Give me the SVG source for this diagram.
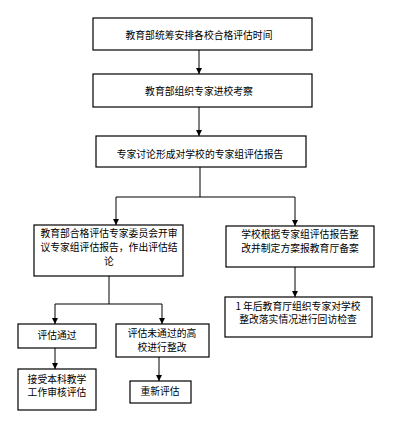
<svg xmlns="http://www.w3.org/2000/svg" width="410" height="430" viewBox="0 0 410 430">
<style>
.box{fill:#fff;stroke:#000;stroke-width:1.2}
.t{font-family:"Noto Sans CJK SC","Liberation Sans",sans-serif;font-size:9.8px;fill:#000;text-anchor:middle}
.c{fill:none;stroke:#000;stroke-width:1}
</style>
<defs>
<marker id="ah" viewBox="0 0 6 6" refX="6" refY="3" markerWidth="6" markerHeight="6" markerUnits="userSpaceOnUse" orient="auto">
<path d="M0,0 L6,3 L0,6 Z" fill="#000"/>
</marker>
</defs>
<rect width="410" height="430" fill="#fff"/>
<g id="connectors">
<line class="c" x1="199" y1="50" x2="199" y2="74" marker-end="url(#ah)"/>
<line class="c" x1="199" y1="107" x2="199" y2="136" marker-end="url(#ah)"/>
<polyline class="c" points="200,167 200,197"/>
<polyline class="c" points="116,197 295,197"/>
<line class="c" x1="116" y1="197" x2="116" y2="225" marker-end="url(#ah)"/>
<line class="c" x1="295" y1="197" x2="295" y2="226" marker-end="url(#ah)"/>
<line class="c" x1="295" y1="267" x2="295" y2="297" marker-end="url(#ah)"/>
<polyline class="c" points="109,276 109,304"/>
<polyline class="c" points="55,304 162,304"/>
<line class="c" x1="55" y1="304" x2="55" y2="324" marker-end="url(#ah)"/>
<line class="c" x1="162" y1="304" x2="162" y2="324" marker-end="url(#ah)"/>
<line class="c" x1="55" y1="348" x2="55" y2="369" marker-end="url(#ah)"/>
<line class="c" x1="159" y1="357" x2="159" y2="381" marker-end="url(#ah)"/>
</g>
<g id="n1"><rect class="box" x="93" y="18" width="219" height="32"/><text class="t" x="199" y="39">教育部统筹安排各校合格评估时间</text></g>
<g id="n2"><rect class="box" x="93" y="74" width="219" height="33"/><text class="t" x="199" y="95">教育部组织专家进校考察</text></g>
<g id="n3"><rect class="box" x="96" y="136" width="210" height="31"/><text class="t" x="200" y="158">专家讨论形成对学校的专家组评估报告</text></g>
<g id="n4"><rect class="box" x="34" y="225" width="149" height="51"/>
<text class="t" x="109" y="237">教育部合格评估专家委员会开审</text>
<text class="t" x="109" y="251">议专家组评估报告，作出评估结</text>
<text class="t" x="109" y="265">论</text></g>
<g id="n5"><rect class="box" x="226" y="226" width="148" height="41"/>
<text class="t" x="300" y="238">学校根据专家组评估报告整</text>
<text class="t" x="300" y="252">改并制定方案报教育厅备案</text></g>
<g id="n6"><rect class="box" x="225" y="297" width="147" height="40"/>
<text class="t" x="298" y="310">1 年后教育厅组织专家对学校</text>
<text class="t" x="298" y="323">整改落实情况进行回访检查</text></g>
<g id="n7"><rect class="box" x="18" y="324" width="78" height="24"/><text class="t" x="57" y="339">评估通过</text></g>
<g id="n8"><rect class="box" x="116" y="324" width="93" height="33"/>
<text class="t" x="162" y="337">评估未通过的高</text>
<text class="t" x="162" y="351">校进行整改</text></g>
<g id="n9"><rect class="box" x="18" y="369" width="78" height="41"/>
<text class="t" x="57" y="383">接受本科教学</text>
<text class="t" x="57" y="396">工作审核评估</text></g>
<g id="n10"><rect class="box" x="130" y="381" width="61" height="22"/><text class="t" x="160" y="395">重新评估</text></g>
</svg>
